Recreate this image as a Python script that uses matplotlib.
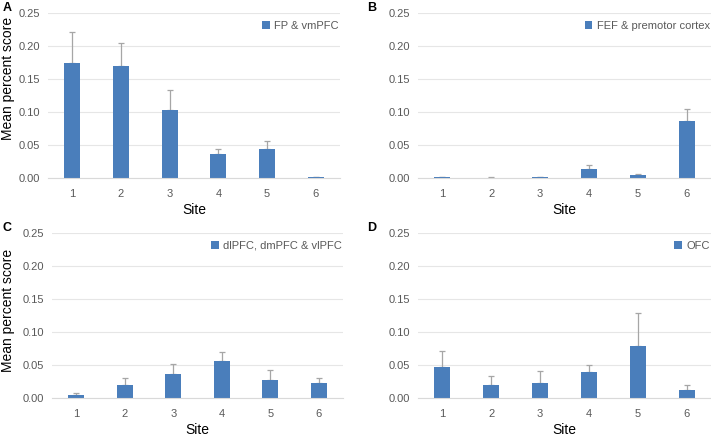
import numpy as np
import matplotlib.pyplot as plt

plt.rcParams['font.family'] = ['Liberation Sans', 'DejaVu Sans']

sites = [1, 2, 3, 4, 5, 6]

# mean percent score and error (upper) per region
fp_mean = [0.174, 0.169, 0.1035, 0.037, 0.044, 0.001]
fp_err = [0.047, 0.0355, 0.0295, 0.007, 0.012, 0.0005]

fef_mean = [0.001, 0.0005, 0.001, 0.013, 0.004, 0.086]
fef_err = [0.0005, 0.0003, 0.0005, 0.006, 0.002, 0.019]

dl_mean = [0.005, 0.0197, 0.036, 0.056, 0.028, 0.023]
dl_err = [0.003, 0.0103, 0.015, 0.0136, 0.014, 0.007]

ofc_mean = [0.047, 0.020, 0.0227, 0.040, 0.079, 0.0126]
ofc_err = [0.0236, 0.013, 0.0183, 0.010, 0.0505, 0.0071]

# letter, legend, mean, err, box in px (left, right, top, bottom), ylabel centre y px, xlabel pad
panels = [
    ('A', 'FP & vmPFC', fp_mean, fp_err, [48, 340, 13, 178], 78, 3),
    ('B', 'FEF & premotor cortex', fef_mean, fef_err, [418, 711, 13, 178], None, 3),
    ('C', 'dlPFC, dmPFC & vlPFC', dl_mean, dl_err, [52, 343, 233, 398], 310, 2.5),
    ('D', 'OFC', ofc_mean, ofc_err, [418, 711, 233, 398], None, 2.5),
]

W, H = 711, 437
fig = plt.figure(figsize=(W / 100, H / 100), dpi=100)

bar_color = '#4A7EBB'
grey_txt = '#595959'

for letter, name, mean, err, (x0, x1, yt, yb), ylab_y, xpad in panels:
    ax = fig.add_axes([x0 / W, 1 - yb / H, (x1 - x0) / W, (yb - yt) / H])
    ax.bar(sites, mean, width=0.33, color=bar_color, label=name, zorder=3)
    ax.errorbar(sites, mean, yerr=[np.zeros(6), err], fmt='none',
                ecolor='#A6A6A6', elinewidth=0.9, capsize=2.5, capthick=0.9, zorder=2)
    ax.set_xlim(0.5, 6.5)
    ax.set_ylim(0, 0.25)
    ax.set_yticks([0, 0.05, 0.10, 0.15, 0.20, 0.25])
    ax.set_yticklabels(['0.00', '0.05', '0.10', '0.15', '0.20', '0.25'])
    ax.set_xticks(sites)
    ax.tick_params(axis='y', length=0, labelsize=8, labelcolor=grey_txt, pad=6)
    ax.tick_params(axis='x', length=0, labelsize=8, labelcolor=grey_txt, pad=8)
    ax.grid(axis='y', color='#E6E6E6', linewidth=0.8, zorder=0)
    for s in ['top', 'right', 'left']:
        ax.spines[s].set_visible(False)
    ax.spines['bottom'].set_color('#D9D9D9')
    ax.spines['bottom'].set_zorder(4)
    ax.set_xlabel('Site', fontsize=10, labelpad=xpad)
    if ylab_y is not None:
        fig.text(1 / W, 1 - ylab_y / H, 'Mean percent score', fontsize=10,
                 rotation=90, ha='left', va='center')
    leg = ax.legend(loc='upper right', frameon=False, fontsize=8,
                    handlelength=0.7, handleheight=0.7, handletextpad=0.4,
                    borderaxespad=0, borderpad=0.1, bbox_to_anchor=(1.0, 0.96))
    for t in leg.get_texts():
        t.set_color(grey_txt)
    lx = 3 if x0 < 100 else 367
    fig.text(lx / W, 1 - (yt - 11) / H, letter,
             fontsize=9, fontweight='bold', va='top', ha='left')

fig.savefig('out.png', dpi=100)
